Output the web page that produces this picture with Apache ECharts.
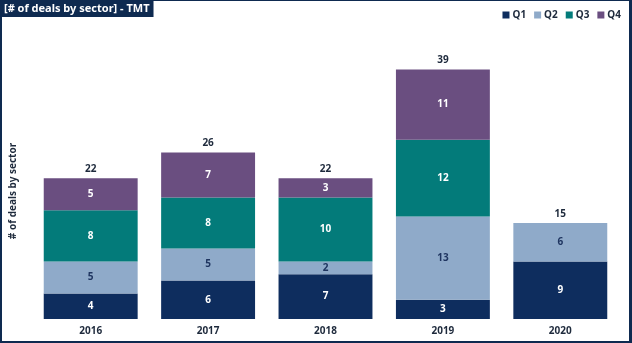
<!DOCTYPE html>
<html>
<head>
<meta charset="utf-8">
<script src="https://cdn.jsdelivr.net/npm/echarts@6/dist/echarts.min.js"></script>
<style>
html,body{margin:0;padding:0;background:#fff;}
#wrap{position:absolute;left:0;top:0;width:632px;height:343px;box-sizing:border-box;border-left:2px solid #0E2A50;border-right:3px solid #0E2A50;border-top:1px solid #0E2A50;border-bottom:2px solid #0E2A50;}
#chart{position:absolute;left:0;top:0;width:632px;height:343px;}
</style>
</head>
<body>
<div id="chart"></div>
<div id="wrap"></div>
<script>
const categories = ['2016', '2017', '2018', '2019', '2020'];
const q1 = [4, 6, 7, 3, 9];
const q2 = [5, 5, 2, 13, 6];
const q3 = [8, 8, 10, 12, null];
const q4 = [5, 7, 3, 11, null];
const totals = [22, 26, 22, 39, 15];
const seriesNames = ['Q1', 'Q2', 'Q3', 'Q4'];
const colors = ['#0E2D5E', '#8FAAC9', '#037B7A', '#6A4E80'];
const labelColors = ['#ffffff', '#1F3560', '#ffffff', '#ffffff'];
const FONT = 'Noto Sans';

const chart = echarts.init(document.getElementById('chart'));
const dataSets = [q1, q2, q3, q4];
const series = dataSets.map((d, i) => ({
  name: seriesNames[i],
  type: 'bar',
  stack: 'total',
  barWidth: '80%',
  data: d,
  itemStyle: { color: colors[i] },
  label: {
    show: true,
    position: 'inside',
    color: labelColors[i],
    fontSize: 10,
    fontWeight: 'bold',
    fontFamily: FONT
  }
}));
series.push({
  name: 'Total',
  type: 'bar',
  stack: 'total',
  barWidth: '80%',
  data: totals.map(() => 0),
  itemStyle: { color: 'transparent' },
  label: {
    show: true,
    position: 'top',
    distance: 4,
    color: '#1E2A3C',
    fontSize: 10,
    fontWeight: 'bold',
    fontFamily: FONT,
    formatter: p => totals[p.dataIndex]
  }
});

chart.setOption({
  animation: false,
  title: {
    text: '[# of deals by sector] - TMT',
    left: 0,
    top: 0,
    backgroundColor: '#0E2A50',
    padding: [3, 4, 3, 4],
    textStyle: { color: '#ffffff', fontSize: 11, fontWeight: 'bold', fontFamily: FONT }
  },
  legend: {
    data: seriesNames,
    right: 6,
    top: 5,
    itemWidth: 7,
    itemHeight: 7,
    itemGap: 8,
    icon: 'rect',
    textStyle: { color: '#1E2A3C', fontSize: 10, fontWeight: 'bold', fontFamily: FONT, padding: [0, 0, 0, -2] }
  },
  grid: { left: 30, right: 13, top: 63, bottom: 24 },
  xAxis: {
    type: 'category',
    data: categories,
    axisLine: { show: false },
    axisTick: { show: false },
    axisLabel: { color: '#1E2A3C', fontSize: 10, fontWeight: 'bold', fontFamily: FONT, margin: 7 }
  },
  yAxis: {
    type: 'value',
    min: 0,
    max: 40,
    name: '# of deals by sector',
    nameLocation: 'middle',
    nameRotate: 90,
    nameGap: 14,
    nameTextStyle: { color: '#1E2A3C', fontSize: 10, fontWeight: 'bold', fontFamily: FONT },
    axisLine: { show: false },
    axisTick: { show: false },
    axisLabel: { show: false },
    splitLine: { show: false }
  },
  series: series
});
</script>
</body>
</html>
